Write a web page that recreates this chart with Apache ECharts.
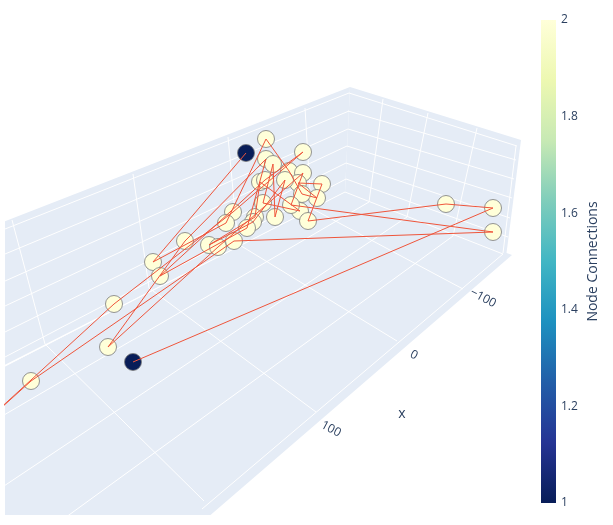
<!DOCTYPE html>
<html>
<head>
<meta charset="utf-8">
<script src="https://cdn.jsdelivr.net/npm/echarts@6/dist/echarts.min.js"></script>
<style>
  html, body { margin: 0; padding: 0; background: #fff; }
  #main { width: 613px; height: 525px; }
</style>
</head>
<body>
<div id="main"></div>
<script>
// nodes (projected scene position + connection count)
const nodeX = [266, 246, 303, 266, 273, 289, 303, 260, 265, 298, 322, 285, 317, 302, 300, 291, 308, 275, 255, 263,
               233, 226, 185, 209, 218, 234, 253, 247, 153, 160, 114, 108, 133, 31, 446, 493, 493, -40];
const nodeY = [139, 153, 152, 159, 164, 171, 173, 182, 180, 183, 184, 180, 198, 194, 211, 205, 221, 217, 217, 203,
               212, 223, 241, 245, 247, 241, 222, 228, 262, 276, 304, 347, 362, 381, 204, 208, 232, 445];
const nodeConn = [2, 1, 2, 2, 2, 2, 2, 2, 2, 2, 2, 2, 2, 2, 2, 2, 2, 2, 2, 2,
                  2, 2, 2, 2, 2, 2, 2, 2, 2, 2, 2, 2, 1, 2, 2, 2, 2, 2];
// edges between nodes (index pairs)
const edgeFrom = [1, 28, 21, 0, 5, 13, 12, 9, 10, 16, 34, 35,
                  33, 37, 30, 20, 2, 8, 29, 27, 3, 22, 31, 24, 6, 15, 36, 25,
                  26, 11, 17, 4, 19, 14, 7, 18, 23];
const edgeTo   = [28, 21, 0, 5, 13, 12, 9, 10, 16, 34, 35, 32,
                  37, 30, 20, 2, 8, 29, 27, 3, 22, 31, 24, 6, 15, 36, 25, 33,
                  11, 17, 4, 19, 14, 7, 18, 23, 26];
const xTickLabels = ['\u2212100', '0', '100'];
const cbMin = 1, cbMax = 2;

// YlGnBu, low -> high
const ylgnbu = ['#081d58', '#253494', '#225ea8', '#1d91c0', '#41b6c4', '#7fcdbb', '#c7e9b4', '#edf8b1', '#ffffd9'];

// the 3d box drawn behind the network (screen positions)
const scenePlanes = [
  [[-100, 262], [350, 87], [345, 192], [-100, 418]],   // back left wall
  [[350, 87], [521, 140], [506, 257], [345, 192]],     // back right wall
  [[-150, 446], [345, 192], [512, 255], [105, 606]]    // floor
];
const sceneGrid = [
  // left wall, horizontal
  [[5, 229], [349, 93]], [[5, 254], [349, 111]], [[5, 281], [348, 129]], [[5, 306], [347, 146]],
  [[5, 332], [346, 163]], [[5, 357], [346, 179]],
  // left wall, vertical
  [[12, 220], [45, 344]], [[133, 174], [149, 288]], [[228, 137], [238, 244]], [[305, 108], [311, 208]],
  // right wall, horizontal
  [[349, 93], [517, 146]], [[348, 111], [516, 160]], [[348, 129], [514, 179]], [[347, 146], [512, 198]],
  [[346, 163], [510, 218]], [[346, 179], [508, 237]],
  [[516, 146], [503, 253]],
  // right wall, vertical
  [[383, 99], [369, 202]], [[428, 113], [407, 217]], [[477, 128], [453, 236]],
  // floor lines and edges
  [[5, 366], [345, 192]], [[345, 192], [503, 254]], [[503, 254], [202, 509]],
  [[45, 344], [204, 501]], [[149, 288], [316, 412]], [[238, 244], [397, 341]], [[311, 208], [463, 289]],
  [[369, 202], [-20, 429]], [[407, 217], [-20, 502]], [[453, 236], [40, 536]]
];
const tickPos = [[483, 298], [414, 355], [331, 429]];

const nodes = nodeX.map(function (x, i) { return [x, nodeY[i], nodeConn[i]]; });
const edges = edgeFrom.map(function (a, i) {
  const b = edgeTo[i];
  return { coords: [[nodeX[a], nodeY[a]], [nodeX[b], nodeY[b]]] };
});

const chart = echarts.init(document.getElementById('main'));
const font = '"Open Sans", verdana, arial, sans-serif';
const ink = '#2a3f5f';

const graphics = xTickLabels.map(function (t, i) {
  return {
    type: 'text', x: tickPos[i][0], y: tickPos[i][1], rotation: -28 * Math.PI / 180,
    style: { text: t, fill: ink, font: '12px ' + font, textAlign: 'center', textVerticalAlign: 'middle' }
  };
});
graphics.push({ type: 'text', x: 402, y: 414,
  style: { text: 'x', fill: ink, font: '14px ' + font, textAlign: 'center', textVerticalAlign: 'middle' } });
graphics.push({ type: 'text', x: 10, y: 507,
  style: { text: 'new text', fill: ink, font: '12px ' + font, textAlign: 'left', textVerticalAlign: 'middle' } });

chart.setOption({
  animation: false,
  backgroundColor: '#fff',
  textStyle: { fontFamily: font },
  grid: [
    { left: 5, top: 0, width: 520, height: 515 },
    { left: 541, top: 20, width: 15, height: 483 }
  ],
  xAxis: [
    { type: 'value', min: 5, max: 525, show: false, gridIndex: 0 },
    { type: 'category', data: [''], show: false, gridIndex: 1 }
  ],
  yAxis: [
    { type: 'value', min: 0, max: 515, inverse: true, show: false, gridIndex: 0 },
    {
      type: 'value', gridIndex: 1, min: cbMin, max: cbMax, interval: 0.2, position: 'right',
      axisLine: { show: false }, axisTick: { show: false }, splitLine: { show: false },
      axisLabel: { color: ink, fontSize: 12, margin: 5,
        formatter: function (v) { return String(Math.round(v * 10) / 10); } },
      name: 'Node Connections', nameLocation: 'middle', nameRotate: 90, nameGap: 30,
      nameTextStyle: { color: ink, fontSize: 14 }
    }
  ],
  visualMap: {
    type: 'continuous', show: false, min: cbMin, max: cbMax, dimension: 2, seriesIndex: 2,
    inRange: { color: ylgnbu }
  },
  graphic: graphics,
  series: [
    {
      type: 'custom', coordinateSystem: 'cartesian2d', xAxisIndex: 0, yAxisIndex: 0,
      clip: true, silent: true, z: 0,
      data: scenePlanes.map(function () { return [0, 0]; }),
      renderItem: function (params, api) {
        const pts = scenePlanes[params.dataIndex].map(function (p) { return api.coord(p); });
        return { type: 'polygon', shape: { points: pts }, style: { fill: '#e5ecf6' } };
      }
    },
    {
      type: 'lines', coordinateSystem: 'cartesian2d', xAxisIndex: 0, yAxisIndex: 0,
      clip: true, silent: true, z: 1,
      lineStyle: { color: '#ffffff', width: 1, opacity: 1 },
      data: sceneGrid.map(function (s) { return { coords: s }; })
    },
    {
      type: 'scatter', xAxisIndex: 0, yAxisIndex: 0, clip: true, z: 3,
      symbolSize: 17,
      itemStyle: { borderColor: '#7a7a7a', borderWidth: 0.8, opacity: 1 },
      data: nodes
    },
    {
      type: 'lines', coordinateSystem: 'cartesian2d', xAxisIndex: 0, yAxisIndex: 0,
      clip: true, z: 4,
      lineStyle: { color: '#ef553b', width: 1, opacity: 1 },
      data: edges
    },
    {
      type: 'bar', xAxisIndex: 1, yAxisIndex: 1, stack: 'cb', barWidth: '100%', silent: true,
      itemStyle: { color: 'rgba(0,0,0,0)' }, data: [cbMin]
    },
    {
      type: 'bar', xAxisIndex: 1, yAxisIndex: 1, stack: 'cb', barWidth: '100%', silent: true,
      itemStyle: {
        color: new echarts.graphic.LinearGradient(0, 0, 0, 1, ylgnbu.slice().reverse().map(function (c, i, a) {
          return { offset: i / (a.length - 1), color: c };
        }))
      },
      data: [cbMax - cbMin]
    }
  ]
});
</script>
</body>
</html>
